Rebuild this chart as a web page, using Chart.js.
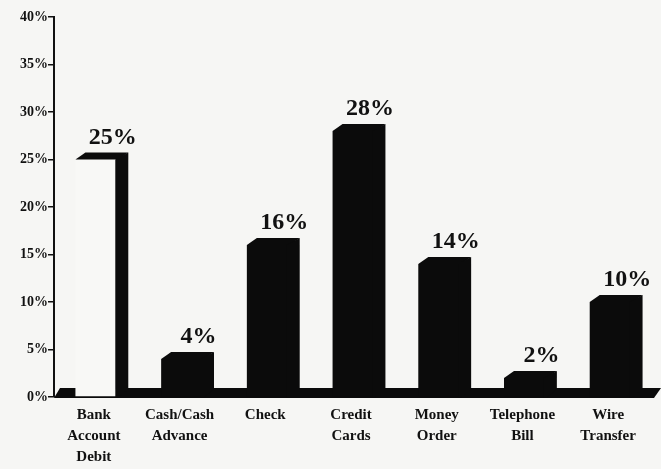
<!DOCTYPE html>
<html lang="en">
<head>
    <meta charset="UTF-8">
    <title>Payment Methods</title>
    <style>
        body {
            margin: 0;
            padding: 0;
            background-color: #f6f6f4;
        }
        .chart-box {
            width: 661px;
            height: 469px;
        }
    </style>
</head>
<body>
    <div class="chart-box">
        <canvas id="paymentChart"></canvas>
    </div>
    <script src="https://cdn.jsdelivr.net/npm/chart.js"></script>
    <script>
        // Categories, values (percent) and axis ticks
        const categories = [
            ['Bank', 'Account', 'Debit'],
            ['Cash/Cash', 'Advance'],
            ['Check'],
            ['Credit', 'Cards'],
            ['Money', 'Order'],
            ['Telephone', 'Bill'],
            ['Wire', 'Transfer']
        ];
        const shares = [25, 4, 16, 28, 14, 2, 10];
        const yTicks = [0, 5, 10, 15, 20, 25, 30, 35, 40];

        // depth of the 3D look (pixels)
        const DX = 10, DY = 7;

        // floor slab + top/side faces + value labels
        const bars3d = {
            id: 'bars3d',
            beforeDatasetsDraw(chart) {
                const ctx = chart.ctx;
                const area = chart.chartArea;
                const y0 = chart.scales.y.getPixelForValue(0);
                ctx.save();
                ctx.fillStyle = '#0b0b0b';
                ctx.beginPath();
                ctx.moveTo(area.left, y0 + 1);
                ctx.lineTo(area.left + 6, y0 - 9);
                ctx.lineTo(area.right + 7, y0 - 9);
                ctx.lineTo(area.right, y0 + 1);
                ctx.closePath();
                ctx.fill();
                ctx.restore();
            },
            afterDatasetsDraw(chart) {
                const ctx = chart.ctx;
                const meta = chart.getDatasetMeta(0);
                ctx.save();
                meta.data.forEach((bar, i) => {
                    const x0 = bar.x - bar.width / 2;
                    const x1 = bar.x + bar.width / 2;
                    const top = bar.y;
                    const base = bar.base;
                    ctx.fillStyle = '#0b0b0b';
                    // top face
                    ctx.beginPath();
                    ctx.moveTo(x0, top);
                    ctx.lineTo(x0 + DX, top - DY);
                    ctx.lineTo(x1 + DX, top - DY);
                    ctx.lineTo(x1, top);
                    ctx.closePath();
                    ctx.fill();
                    // side face
                    ctx.beginPath();
                    ctx.moveTo(x1 - 3, top);
                    ctx.lineTo(x1 + DX, top - DY);
                    ctx.lineTo(x1 + DX, base - DY);
                    ctx.lineTo(x1, base + 1);
                    ctx.lineTo(x1 - 3, base + 1);
                    ctx.closePath();
                    ctx.fill();
                    // value label
                    ctx.fillStyle = '#111';
                    ctx.font = 'bold 24px "Liberation Serif"';
                    ctx.textAlign = 'center';
                    ctx.textBaseline = 'alphabetic';
                    ctx.fillText(shares[i] + '%', bar.x + 16, top - DY - 9);
                });
                ctx.restore();
            }
        };

        const barColors = shares.map((v, i) => i === 0 ? '#f8f8f6' : '#0b0b0b');

        const paymentChart = new Chart(document.getElementById('paymentChart'), {
            type: 'bar',
            data: {
                labels: categories,
                datasets: [{
                    data: shares,
                    backgroundColor: barColors,
                    borderWidth: 0,
                    barPercentage: 0.5,
                    categoryPercentage: 1
                }]
            },
            options: {
                responsive: true,
                maintainAspectRatio: false,
                animation: false,
                layout: {
                    padding: { top: 17, right: 7, left: 0, bottom: 0 }
                },
                plugins: {
                    legend: { display: false },
                    tooltip: { enabled: false }
                },
                scales: {
                    x: {
                        grid: { display: false },
                        border: { display: false },
                        ticks: {
                            color: '#111',
                            padding: 0,
                            labelOffset: -3,
                            maxRotation: 0,
                            autoSkip: false,
                            font: { family: '"Liberation Serif"', size: 15, weight: 'bold', lineHeight: 1.4 }
                        },
                        afterFit(scale) { scale.height = 72; }
                    },
                    y: {
                        min: 0,
                        max: 40,
                        afterBuildTicks(scale) {
                            scale.ticks = yTicks.map(v => ({ value: v }));
                        },
                        grid: {
                            drawOnChartArea: false,
                            tickLength: 6,
                            color: '#111',
                            lineWidth: 1.5
                        },
                        border: { display: true, color: '#111', width: 2 },
                        ticks: {
                            color: '#111',
                            padding: 0,
                            font: { family: '"Liberation Serif"', size: 14, weight: 'bold' },
                            callback: v => v + '%'
                        },
                        afterFit(scale) { scale.width = 54; }
                    }
                }
            },
            plugins: [bars3d]
        });
    </script>
</body>
</html>
